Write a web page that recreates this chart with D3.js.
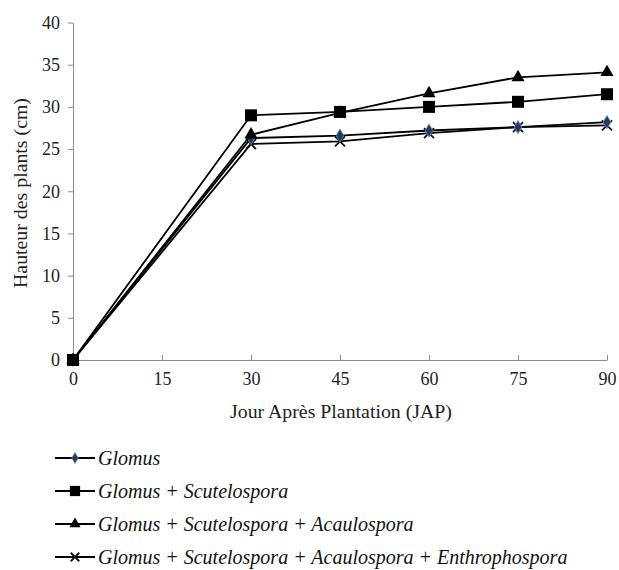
<!DOCTYPE html>
<html><head><meta charset="utf-8">
<script src="https://cdn.jsdelivr.net/npm/d3@7"></script>
<style>body{margin:0;background:#fff}svg{display:block;font-family:"Liberation Serif","DejaVu Serif",serif}</style>
</head><body>
<svg id="c" width="619" height="570"></svg>
<script>
const days = [0, 30, 45, 60, 75, 90];
const xTicks = [0, 15, 30, 45, 60, 75, 90];
const yTicks = [0, 5, 10, 15, 20, 25, 30, 35, 40];
const seriesNames = ["Glomus", "Glomus + Scutelospora", "Glomus + Scutelospora + Acaulospora", "Glomus + Scutelospora + Acaulospora + Enthrophospora"];
const glomus = [0, 26.3, 26.6, 27.2, 27.6, 28.2];
const glomusScut = [0, 29.0, 29.4, 30.0, 30.6, 31.5];
const glomusScutAcau = [0, 26.7, 29.3, 31.6, 33.5, 34.1];
const glomusScutAcauEnth = [0, 25.6, 25.9, 26.9, 27.6, 27.8];
const markers = ["diamond", "square", "triangle", "cross"];

const svg = d3.select("#c");
const font = '"Liberation Serif","DejaVu Serif",serif';
const x = d3.scaleLinear().domain([0, 90]).range([73, 607]);
const y = d3.scaleLinear().domain([0, 40]).range([360, 22.5]);

// axes
const gx = svg.append("g").attr("transform", "translate(0,360)")
  .call(d3.axisBottom(x).tickValues(xTicks).tickSize(-5).tickPadding(12).tickSizeOuter(0));
const gy = svg.append("g").attr("transform", "translate(73,0)")
  .call(d3.axisLeft(y).tickValues(yTicks).tickSize(5).tickPadding(8).tickSizeOuter(0));
[gx, gy].forEach(g => {
  g.attr("font-family", null).attr("font-size", null);
  g.selectAll("path,line").attr("stroke", "#8c8c8c").attr("stroke-width", 1);
  g.selectAll("text").style("font-family", font).style("font-size", "18px").attr("fill", "#222");
});
gx.selectAll("text").attr("dy", "0.72em");

// titles
function fitText(sel, w) {
  const cur = sel.node().getComputedTextLength();
  const fs = parseFloat(sel.style("font-size"));
  sel.style("font-size", (fs * w / cur) + "px");
}
const xt = svg.append("text").attr("x", 341).attr("y", 418).attr("text-anchor", "middle")
  .style("font-family", font).style("font-size", "18px").attr("fill", "#222").text("Jour Après Plantation (JAP)");
fitText(xt, 222);
const yt = svg.append("text").attr("transform", "translate(27,193) rotate(-90)").attr("text-anchor", "middle")
  .style("font-family", font).style("font-size", "18px").attr("fill", "#222").text("Hauteur des plants (cm)");
fitText(yt, 190);

const data = [glomus, glomusScut, glomusScutAcau, glomusScutAcauEnth];
const line = d3.line().x((d, i) => x(days[i])).y(d => y(d));

function drawMarker(g, type, cx, cy, s) {
  s = s || 1;
  if (type === "diamond") {
    g.append("path").attr("d", d3.symbol(d3.symbolDiamond, 50 * s * s)()).attr("transform", `translate(${cx},${cy})`)
      .attr("fill", "#1f3a60").attr("stroke", "#6f8fb8").attr("stroke-width", 0.8);
  } else if (type === "square") {
    g.append("rect").attr("x", cx - 6 * s).attr("y", cy - 6 * s).attr("width", 12 * s).attr("height", 12 * s).attr("fill", "#000");
  } else if (type === "triangle") {
    g.append("path").attr("d", d3.symbol(d3.symbolTriangle, 75 * s * s)()).attr("transform", `translate(${cx},${cy})`).attr("fill", "#000");
  } else {
    const r = 5 * s;
    g.append("path").attr("d", `M${cx-r},${cy-r}L${cx+r},${cy+r}M${cx-r},${cy+r}L${cx+r},${cy-r}`)
      .attr("stroke", "#111").attr("stroke-width", 1.8);
  }
}

const order = [3, 0, 2, 1];
order.forEach(si => {
  const g = svg.append("g");
  g.append("path").datum(data[si]).attr("d", line).attr("fill", "none").attr("stroke", "#000").attr("stroke-width", 1.8);
  data[si].forEach((v, i) => drawMarker(g, markers[si], x(days[i]), y(v)));
});

// legend
const legY = [458, 491, 524, 557];
let legendTexts = [];
seriesNames.forEach((n, i) => {
  const g = svg.append("g");
  g.append("line").attr("x1", 55).attr("x2", 95).attr("y1", legY[i]).attr("y2", legY[i]).attr("stroke", "#000").attr("stroke-width", 1.8);
  drawMarker(g, markers[i], 75, legY[i], 0.85);
  legendTexts.push(g.append("text").attr("x", 98).attr("y", legY[i]).attr("dy", "0.35em")
    .style("font-family", font).style("font-style", "italic").style("font-size", "20px").attr("fill", "#111").text(n));
});
const longest = legendTexts[3];
const lw = longest.node().getComputedTextLength();
const lfs = Math.min(20, 20 * 474 / lw);
legendTexts.forEach(t => t.style("font-size", lfs + "px"));
</script>
</body></html>
